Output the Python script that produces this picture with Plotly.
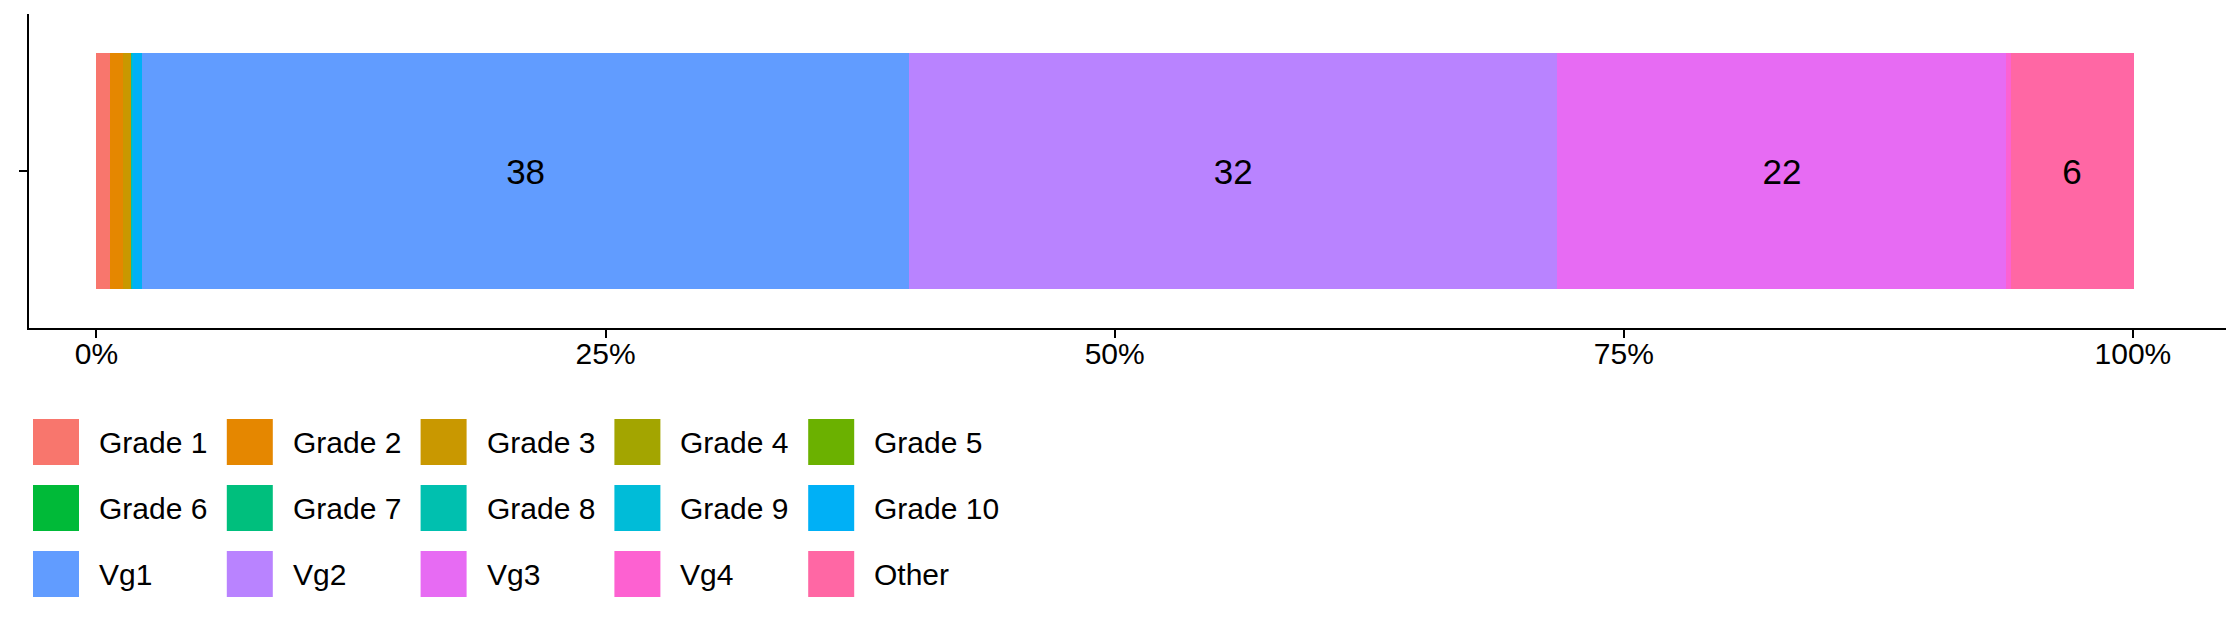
import plotly.graph_objects as go

# ---- data ----
categories = ["Grade 1", "Grade 2", "Grade 3", "Grade 4", "Grade 5",
              "Grade 6", "Grade 7", "Grade 8", "Grade 9", "Grade 10",
              "Vg1", "Vg2", "Vg3", "Vg4", "Other"]
shares = [0.69, 0.62, 0.39, 0.01, 0.01,
          0.01, 0.01, 0.01, 0.05, 0.45,
          37.65, 31.84, 22.05, 0.20, 6.04]
colors = ["#F8766D", "#E58700", "#C99800", "#A3A500", "#6BB100",
          "#00BA38", "#00BF7D", "#00C0AF", "#00BCD8", "#00B0F6",
          "#619CFF", "#B983FF", "#E76BF3", "#FD61D1", "#FF67A4"]
tick_vals = [0, 25, 50, 75, 100]
tick_text = ["0%", "25%", "50%", "75%", "100%"]
label_threshold = 5

W, H = 2240, 630
OFF = 8  # page body margin in the browser
L, R, T, B = 29 - OFF, 2226 - OFF, 14 - OFF, 328 - OFF  # plot area in pixels
FONT = "Liberation Sans, Arial, sans-serif"

fig = go.Figure()
for cat, v, c in zip(categories, shares, colors):
    fig.add_trace(go.Bar(
        x=[v], y=[0], orientation="h", name=cat,
        marker=dict(color=c, line=dict(width=0)),
        width=0.9,
        text=[str(round(v))] if v >= label_threshold else [""],
        textposition="inside", insidetextanchor="middle",
        textangle=0,
        textfont=dict(family=FONT, size=35, color="black"),
        showlegend=False, hoverinfo="name+x",
    ))

# ---- manual legend (5 columns x 3 rows) ----
def px_x(p):
    return (p - L) / (R - L)

def px_y(p):
    return 1 - (p - T) / (B - T)

shapes = []
annotations = []
key = 46
for i, (cat, c) in enumerate(zip(categories, colors)):
    row, col = divmod(i, 5)
    x0 = 33 - OFF + 193.8 * col
    y0 = 419 - OFF + 66 * row
    shapes.append(dict(type="rect", xref="paper", yref="paper",
                       x0=px_x(x0), x1=px_x(x0 + key),
                       y0=px_y(y0 + key), y1=px_y(y0),
                       fillcolor=c, line=dict(width=0)))
    annotations.append(dict(xref="paper", yref="paper",
                            x=px_x(x0 + 64), y=px_y(y0 + key / 2),
                            xanchor="left", yanchor="middle",
                            text=cat, showarrow=False,
                            font=dict(family=FONT, size=30, color="black")))

fig.update_layout(
    width=W, height=H,
    barmode="stack",
    paper_bgcolor="white", plot_bgcolor="white",
    margin=dict(l=L, r=W - R, t=T, b=H - B, pad=0),
    xaxis=dict(range=[-3.31, 104.57], tickvals=tick_vals, ticktext=tick_text,
               showgrid=False, zeroline=False,
               showline=True, linecolor="black", linewidth=2,
               ticks="outside", ticklen=8, tickwidth=2, tickcolor="black",
               ticklabelstandoff=-10,
               tickfont=dict(family=FONT, size=30, color="black"),
               fixedrange=True),
    yaxis=dict(range=[-0.6, 0.6], tickvals=[0], ticktext=[""],
               showgrid=False, zeroline=False,
               showline=True, linecolor="black", linewidth=2,
               ticks="outside", ticklen=8, tickwidth=2, tickcolor="black",
               fixedrange=True),
    shapes=shapes,
    annotations=annotations,
    showlegend=False,
    uniformtext=dict(mode=False),
)

fig.write_html("out.html")
